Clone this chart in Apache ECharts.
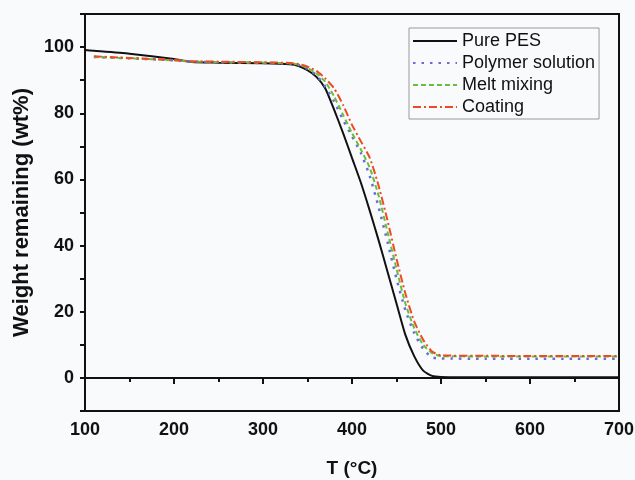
<!DOCTYPE html>
<html>
<head>
<meta charset="utf-8">
<script src="https://cdn.jsdelivr.net/npm/echarts@6/dist/echarts.min.js"></script>
<style>
    html, body { margin: 0; padding: 0; background: #f9fafc; }
    #chart { width: 635px; height: 480px; }
</style>
</head>
<body>
<div id="chart"></div>
<script>
// temperature (°C) and weight remaining (wt%)
const temps = [100, 110, 150, 200, 220, 250, 300, 330, 340, 350, 360, 370, 380, 390, 400,
    410, 420, 430, 440, 450, 460, 470, 480, 490, 500, 550, 600, 650, 700]
const purePES = [99.1, 98.9, 98.0, 96.4, 95.5, 95.3, 95.1, 94.8, 94.3, 93.0, 91.0, 87.5, 81.0, 74.0, 66.5,
    59.0, 50.5, 41.5, 32.0, 22.5, 13.0, 6.5, 2.2, 0.6, 0.3, 0.2, 0.2, 0.2, 0.2]
const polymerSolution = [null, 97.0, 96.6, 96.0, 95.6, 95.4, 95.2, 95.0, 94.6, 93.4, 91.5, 88.0, 83.5, 78.0, 73.0,
    68.0, 61.0, 51.5, 41.0, 30.0, 20.5, 13.5, 8.8, 6.2, 5.9, 5.8, 5.8, 5.8, 5.8]
const meltMixing = [null, 97.0, 96.6, 96.0, 95.6, 95.5, 95.3, 95.1, 94.7, 93.7, 92.0, 89.5, 85.0, 79.5, 74.0,
    69.0, 63.5, 55.0, 44.0, 33.0, 22.5, 15.0, 10.0, 7.5, 6.6, 6.5, 6.5, 6.5, 6.5]
const coating = [null, 97.2, 96.7, 96.1, 95.7, 95.6, 95.4, 95.2, 94.9, 94.1, 92.8, 90.5, 87.5, 82.5, 76.5,
    71.5, 66.5, 58.0, 47.5, 36.0, 25.5, 17.0, 11.5, 8.0, 6.8, 6.7, 6.6, 6.6, 6.6]
const seriesNames = ['Pure PES', 'Polymer solution', 'Melt mixing', 'Coating']

function pairs(values) {
    return temps.map((t, i) => [t, values[i]])
}

const myChart = echarts.init(document.getElementById('chart'))

const axisFont = {
    color: '#111',
    fontFamily: 'Liberation Sans',
    fontWeight: 'bold',
    fontSize: 18
}

function lineSeries(name, values, color, width, type) {
    return {
        name: name,
        type: 'line',
        data: pairs(values),
        symbol: 'none',
        smooth: 0.2,
        lineStyle: { color: color, width: width, type: type },
        itemStyle: { color: color }
    }
}

const option = {
    animation: false,
    backgroundColor: '#f9fafc',
    grid: {
        left: 85,
        right: 16,
        top: 14,
        bottom: 69,
        outerBoundsMode: 'none',
        show: true,
        borderColor: '#111',
        borderWidth: 2
    },
    legend: {
        data: seriesNames,
        orient: 'vertical',
        left: 409,
        top: 28,
        padding: [3, 4, 2, 3],
        itemWidth: 44,
        itemHeight: 14,
        itemGap: 2,
        borderColor: '#999',
        borderWidth: 1,
        // only the line sample, no marker in the middle
        itemStyle: { opacity: 0 },
        textStyle: {
            color: '#111',
            fontFamily: 'Liberation Sans',
            fontSize: 18,
            lineHeight: 20
        }
    },
    xAxis: {
        type: 'value',
        min: 100,
        max: 700,
        interval: 100,
        name: 'T (°C)',
        nameLocation: 'middle',
        nameGap: 48,
        nameTextStyle: Object.assign({}, axisFont, { fontSize: 19 }),
        axisLine: { lineStyle: { color: '#111', width: 2 } },
        axisTick: { length: 6, lineStyle: { color: '#111', width: 2 } },
        minorTick: { show: true, splitNumber: 2, length: 4, lineStyle: { color: '#111', width: 2 } },
        axisLabel: Object.assign({ margin: 10 }, axisFont),
        splitLine: { show: false }
    },
    yAxis: {
        type: 'value',
        min: -10,
        max: 110,
        interval: 10,
        name: 'Weight remaining (wt%)',
        nameLocation: 'middle',
        nameGap: 51,
        nameTextStyle: Object.assign({}, axisFont, { fontSize: 22 }),
        axisLine: { lineStyle: { color: '#111', width: 2 } },
        axisTick: { length: 5, lineStyle: { color: '#111', width: 2 } },
        axisLabel: Object.assign({
            margin: 11,
            formatter: function (v) {
                return (v >= 0 && v <= 100 && v % 20 === 0) ? String(v) : ''
            }
        }, axisFont),
        splitLine: { show: false }
    },
    series: [
        lineSeries(seriesNames[0], purePES, '#111', 2, 'solid'),
        lineSeries(seriesNames[1], polymerSolution, '#6b6bd8', 2.5, [2.5, 6]),
        lineSeries(seriesNames[2], meltMixing, '#66bf3c', 2, [5, 3]),
        lineSeries(seriesNames[3], coating, '#ee4a22', 2, [8, 3, 2, 3])
    ]
}

myChart.setOption(option)
</script>
</body>
</html>
